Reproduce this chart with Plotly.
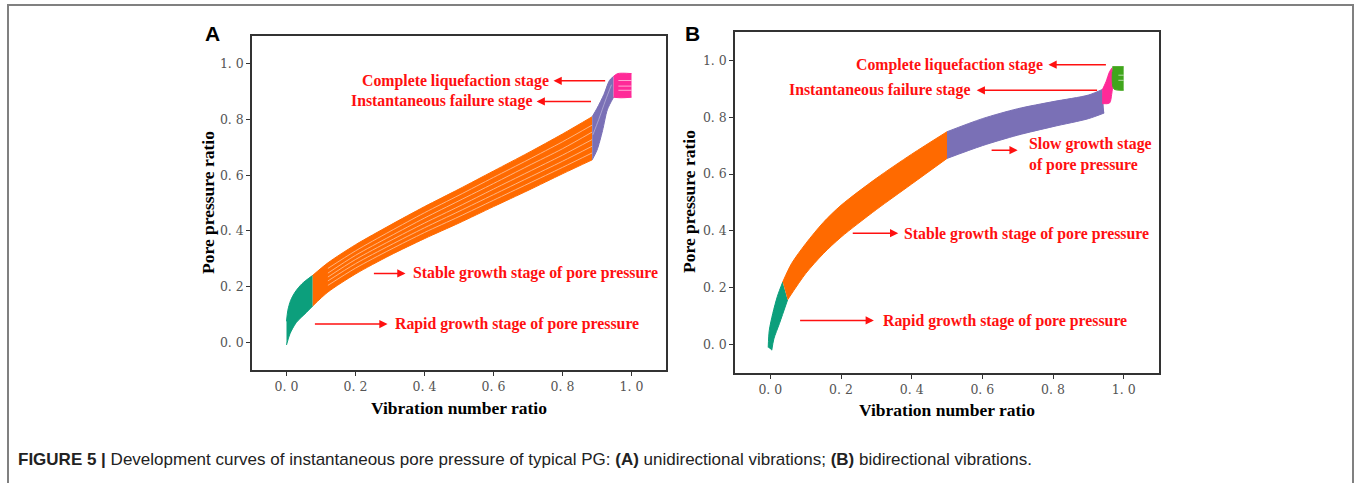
import plotly.graph_objects as go

# ---------------- data ----------------
tick_vals = [0.0, 0.2, 0.4, 0.6, 0.8, 1.0]
tick_text = ["0. 0", "0. 2", "0. 4", "0. 6", "0. 8", "1. 0"]

# Panel A (unidirectional) : stage envelopes (upper / lower curve of the bundle)
A_green_top_x = [0.0, 0.004, 0.012, 0.025, 0.045, 0.076]
A_green_top_y = [0.075, 0.115, 0.150, 0.180, 0.210, 0.240]
A_green_bot_x = [0.0, 0.010, 0.028, 0.057, 0.076]
A_green_bot_y = [-0.010, 0.030, 0.070, 0.106, 0.130]

A_orange_x = [0.076, 0.12, 0.2, 0.3, 0.4, 0.5, 0.6, 0.7, 0.8, 0.886]
A_orange_top = [0.240, 0.285, 0.350, 0.420, 0.487, 0.550, 0.615, 0.680, 0.748, 0.810]
A_orange_bot = [0.130, 0.180, 0.245, 0.312, 0.372, 0.428, 0.487, 0.545, 0.605, 0.655]
A_orange_gap1 = [0.222, 0.265, 0.328, 0.398, 0.465, 0.528, 0.592, 0.655, 0.720, 0.780]
A_orange_gap2 = [0.205, 0.248, 0.312, 0.380, 0.446, 0.508, 0.570, 0.633, 0.695, 0.755]
A_orange_gap3 = [0.190, 0.234, 0.297, 0.364, 0.428, 0.488, 0.550, 0.611, 0.672, 0.728]
A_orange_gap4 = [0.172, 0.220, 0.282, 0.348, 0.411, 0.470, 0.530, 0.590, 0.650, 0.704]
A_orange_gap5 = [0.155, 0.204, 0.266, 0.332, 0.394, 0.451, 0.510, 0.569, 0.628, 0.680]

A_purple_top_x = [0.886, 0.900, 0.920, 0.936, 0.948]
A_purple_top_y = [0.810, 0.840, 0.890, 0.940, 0.955]
A_purple_bot_x = [0.886, 0.900, 0.916, 0.930, 0.948]
A_purple_bot_y = [0.655, 0.690, 0.760, 0.835, 0.880]
A_purple_gap_x = [0.888, 0.905, 0.925, 0.942]
A_purple_gap_y = [0.745, 0.800, 0.870, 0.925]

A_pink_top_x = [0.948, 0.960, 1.0]
A_pink_top_y = [0.955, 0.965, 0.965]
A_pink_bot_x = [0.948, 0.970, 1.0]
A_pink_bot_y = [0.880, 0.878, 0.880]
A_pink_gap_y = [0.905, 0.920, 0.940]

# Panel B (bidirectional)
B_green_top_x = [-0.006, -0.003, 0.007, 0.020, 0.035]
B_green_top_y = [-0.010, 0.050, 0.110, 0.170, 0.220]
B_green_bot_x = [0.004, 0.010, 0.026, 0.049]
B_green_bot_y = [-0.020, 0.020, 0.075, 0.158]

B_orange_top_x = [0.035, 0.06, 0.1, 0.15, 0.2, 0.3, 0.4, 0.5]
B_orange_top_y = [0.220, 0.285, 0.355, 0.430, 0.490, 0.585, 0.670, 0.749]
B_orange_bot_x = [0.049, 0.1, 0.15, 0.2, 0.3, 0.4, 0.5]
B_orange_bot_y = [0.158, 0.250, 0.320, 0.378, 0.475, 0.565, 0.655]

B_purple_top_x = [0.5, 0.6, 0.7, 0.8, 0.9, 0.940]
B_purple_top_y = [0.749, 0.795, 0.830, 0.855, 0.878, 0.898]
B_purple_bot_x = [0.5, 0.6, 0.7, 0.8, 0.9, 0.945]
B_purple_bot_y = [0.655, 0.700, 0.737, 0.767, 0.795, 0.815]

B_pink_top_x = [0.939, 0.950, 0.960, 0.968]
B_pink_top_y = [0.895, 0.925, 0.960, 0.975]
B_pink_bot_x = [0.939, 0.960, 0.966, 0.972]
B_pink_bot_y = [0.848, 0.850, 0.880, 0.950]

B_lime_top_x = [0.968, 1.0]
B_lime_top_y = [0.978, 0.978]
B_lime_bot_x = [0.968, 0.972, 1.0]
B_lime_bot_y = [0.960, 0.900, 0.895]
B_lime_gap_y = [0.930, 0.948]

# ---------------- styles ----------------
C_GREEN = "#0C9F7C"
C_ORANGE = "#FF6A00"
C_PURPLE = "#7A70B6"
C_PINK = "#FF2A98"
C_LIME = "#40A61C"
RED = "#FF1010"
SERIF = "Liberation Serif"

fig = go.Figure()


def band(xa, ya, xb, yb, color, xaxis, yaxis):
    fig.add_trace(go.Scatter(x=xb, y=yb, mode="lines", line=dict(color=color, width=1, shape="spline", smoothing=0.8),
                             xaxis=xaxis, yaxis=yaxis, showlegend=False, hoverinfo="skip"))
    fig.add_trace(go.Scatter(x=xa, y=ya, mode="lines", fill="tonexty", fillcolor=color,
                             line=dict(color=color, width=1, shape="spline", smoothing=0.8),
                             xaxis=xaxis, yaxis=yaxis, showlegend=False, hoverinfo="skip"))


def streak(x, y, xaxis, yaxis, width=0.9, opacity=0.55):
    fig.add_trace(go.Scatter(x=x, y=y, mode="lines", opacity=opacity,
                             line=dict(color="white", width=width, shape="spline", smoothing=0.8),
                             xaxis=xaxis, yaxis=yaxis, showlegend=False, hoverinfo="skip"))


# Panel A
band(A_green_top_x, A_green_top_y, A_green_bot_x, A_green_bot_y, C_GREEN, "x", "y")
band(A_orange_x, A_orange_top, A_orange_x, A_orange_bot, C_ORANGE, "x", "y")
for g in [A_orange_gap1, A_orange_gap2, A_orange_gap3, A_orange_gap4, A_orange_gap5]:
    streak(A_orange_x[1:], g[1:], "x", "y")
band(A_purple_top_x, A_purple_top_y, A_purple_bot_x, A_purple_bot_y, C_PURPLE, "x", "y")
streak(A_purple_gap_x, A_purple_gap_y, "x", "y", width=0.8, opacity=0.45)
band(A_pink_top_x, A_pink_top_y, A_pink_bot_x, A_pink_bot_y, C_PINK, "x", "y")
for gy in A_pink_gap_y:
    streak([0.962, 1.0], [gy, gy], "x", "y", width=1, opacity=0.6)

# Panel B
band(B_green_top_x, B_green_top_y, B_green_bot_x, B_green_bot_y, C_GREEN, "x2", "y2")
band(B_orange_top_x, B_orange_top_y, B_orange_bot_x, B_orange_bot_y, C_ORANGE, "x2", "y2")
band(B_purple_top_x, B_purple_top_y, B_purple_bot_x, B_purple_bot_y, C_PURPLE, "x2", "y2")
band(B_pink_top_x, B_pink_top_y, B_pink_bot_x, B_pink_bot_y, C_PINK, "x2", "y2")
band(B_lime_top_x, B_lime_top_y, B_lime_bot_x, B_lime_bot_y, C_LIME, "x2", "y2")
for gy in B_lime_gap_y:
    streak([0.985, 1.0], [gy, gy], "x2", "y2", width=1, opacity=0.6)

axis_common = dict(range=[-0.1, 1.1], tickvals=tick_vals, ticktext=tick_text, ticks="outside", ticklen=4,
                   tickcolor="#333333", tickwidth=1.2, showline=True, linecolor="#333333", linewidth=1.5,
                   mirror=True, showgrid=False, zeroline=False,
                   tickfont=dict(family="DejaVu Serif", size=12.5, color="#555555"))

fig.update_layout(
    width=1356, height=483, margin=dict(l=0, r=0, t=0, b=0),
    paper_bgcolor="white", plot_bgcolor="white",
    xaxis=dict(domain=[252 / 1356, 666 / 1356], anchor="y", **axis_common),
    yaxis=dict(domain=[1 - 370 / 483, 1 - 36 / 483], anchor="x", **axis_common),
    xaxis2=dict(domain=[735 / 1356, 1159 / 1356], anchor="y2", **axis_common),
    yaxis2=dict(domain=[1 - 373 / 483, 1 - 32 / 483], anchor="x2", **axis_common),
)

ann = []


def ptext(text, px, py, size, family=SERIF, color="black", angle=0, xanchor="center"):
    ann.append(dict(text=text, x=px / 1356, y=1 - py / 483, xref="paper", yref="paper",
                    xanchor=xanchor, yanchor="middle", textangle=angle, showarrow=False,
                    font=dict(family=family, size=size, color=color)))


# axis titles and panel letters
ptext("<b>Vibration number ratio</b>", 459, 408, 17.5)
ptext("<b>Vibration number ratio</b>", 947, 410, 17.5)
ptext("<b>Pore pressure ratio</b>", 208, 203, 17.5, angle=-90)
ptext("<b>Pore pressure ratio</b>", 689, 202, 17.5, angle=-90)
ptext("<b>A</b>", 212, 33, 21, family="Liberation Sans")
ptext("<b>B</b>", 692, 33, 21, family="Liberation Sans")
ptext("<b>FIGURE 5 |</b> Development curves of instantaneous pore pressure of typical PG: <b>(A)</b> "
      "unidirectional vibrations; <b>(B)</b> bidirectional vibrations.",
      16, 459, 17, family="Liberation Sans", color="#222222", xanchor="left")

stage_font = dict(family=SERIF, size=15.8, color=RED)


def label(text, x, y, xr, yr, xanchor="center"):
    ann.append(dict(text="<b>" + text + "</b>", x=x, y=y, xref=xr, yref=yr, xanchor=xanchor, yanchor="middle",
                    showarrow=False, font=stage_font, align="left"))


def arrow(x_tail, x_head, y, xr, yr):
    ann.append(dict(text="", x=x_head, y=y, ax=x_tail, ay=y, xref=xr, yref=yr, axref=xr, ayref=yr,
                    showarrow=True, arrowhead=2, arrowsize=1.1, arrowwidth=1.5, arrowcolor=RED, standoff=0))


# Panel A labels
label("Complete liquefaction stage", 0.491, 0.939, "x", "y")
arrow(0.928, 0.774, 0.939, "x", "y")
label("Instantaneous failure stage", 0.448, 0.865, "x", "y")
arrow(0.887, 0.725, 0.865, "x", "y")
label("Stable growth stage of pore pressure", 0.362, 0.247, "x", "y", "left")
arrow(0.249, 0.345, 0.247, "x", "y")
label("Rapid growth stage of pore pressure", 0.310, 0.065, "x", "y", "left")
arrow(0.078, 0.293, 0.065, "x", "y")

# Panel B labels
label("Complete liquefaction stage", 0.508, 0.985, "x2", "y2")
arrow(0.954, 0.787, 0.985, "x2", "y2")
label("Instantaneous failure stage", 0.309, 0.895, "x2", "y2")
arrow(0.929, 0.584, 0.895, "x2", "y2")
label("Slow growth stage<br>of pore pressure", 0.726, 0.670, "x2", "y2", "left")
arrow(0.622, 0.700, 0.684, "x2", "y2")
label("Stable growth stage of pore pressure", 0.374, 0.389, "x2", "y2", "left")
arrow(0.229, 0.362, 0.392, "x2", "y2")
label("Rapid growth stage of pore pressure", 0.3125, 0.082, "x2", "y2", "left")
arrow(0.080, 0.293, 0.085, "x2", "y2")

fig.update_layout(annotations=ann)

# outer frame of the figure panel
fig.add_shape(type="rect", xref="paper", yref="paper", x0=8 / 1356, x1=1353 / 1356, y0=-0.2, y1=1 - 5 / 483,
              line=dict(color="#808080", width=2), fillcolor="rgba(0,0,0,0)", layer="above")

fig.write_html("out.html")
